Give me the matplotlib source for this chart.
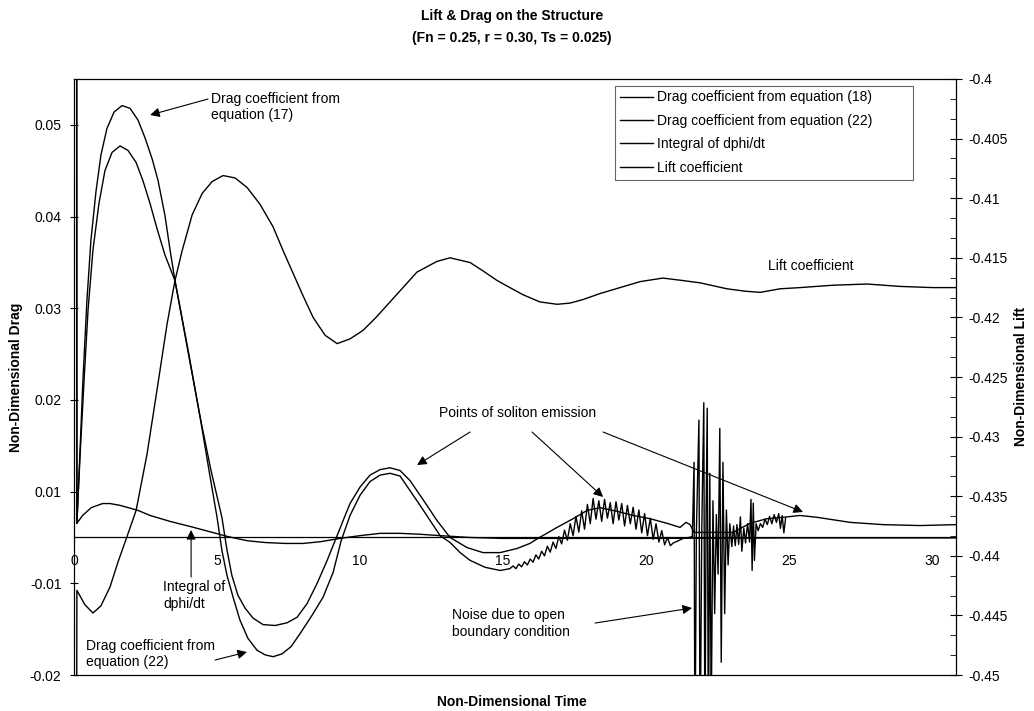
import numpy as np
import matplotlib
matplotlib.use("Agg")
import matplotlib.pyplot as plt
from matplotlib.ticker import FuncFormatter, MultipleLocator, AutoMinorLocator

plt.rcParams['font.family'] = ['Liberation Sans', 'DejaVu Sans']
plt.rcParams['font.size'] = 10

# (time, Cd) drag coefficient from equation (18)
drag18 = [(0.075, 0.2), (0.10, 0.0031), (0.21, 0.0145), (0.31, 0.0221), (0.45, 0.0308),
          (0.59, 0.0374), (0.77, 0.0428), (0.94, 0.0467), (1.15, 0.0496), (1.40, 0.0514),
          (1.68, 0.0521), (1.96, 0.0518), (2.24, 0.0505), (2.48, 0.0486), (2.73, 0.0463),
          (2.94, 0.0439), (3.18, 0.0401), (3.36, 0.0363), (3.53, 0.0330), (3.99, 0.0254),
          (4.41, 0.0181), (4.79, 0.0123), (5.17, 0.0044), (5.35, -0.0028), (5.52, -0.0083),
          (5.73, -0.0113), (5.98, -0.0127), (6.26, -0.0138), (6.61, -0.0145), (7.03, -0.0146),
          (7.45, -0.0143), (7.80, -0.0137), (8.15, -0.0122), (8.50, -0.0100), (8.85, -0.0050),
          (9.16, -0.0002), (9.48, 0.0048), (9.65, 0.0074), (10.00, 0.0105), (10.35, 0.0118),
          (10.70, 0.0124), (11.05, 0.0126), (11.40, 0.0123), (11.75, 0.0112), (11.99, 0.0101),
          (12.34, 0.0070), (12.69, 0.0037), (13.15, 0.0), (13.74, -0.0022), (14.30, -0.0033),
          (14.90, -0.0033), (15.49, -0.0024), (15.94, -0.0013), (16.22, -0.0002), (16.89, 0.0022),
          (17.45, 0.0041), (17.94, 0.0059), (18.39, 0.0065), (18.99, 0.0057), (19.55, 0.0048),
          (20.14, 0.0041), (20.73, 0.0031), (21.19, 0.0022), (21.40, 0.0033), (21.54, 0.0028),
          (21.68, 0.0011), (22.24, 0.0011), (23.04, 0.0011), (23.64, 0.0031), (24.23, 0.0041),
          (24.79, 0.0044), (25.38, 0.0048), (25.98, 0.0044), (27.13, 0.0033), (28.29, 0.0028),
          (29.58, 0.0026), (30.84, 0.0028)]

# (time, Cd) drag coefficient from equation (22), smooth part
drag22 = [(0.075, 0.2), (0.10, 0.0031), (0.21, 0.0139), (0.35, 0.0221), (0.49, 0.0298),
          (0.66, 0.0363), (0.87, 0.0414), (1.08, 0.0450), (1.33, 0.0470), (1.61, 0.0477),
          (1.89, 0.0472), (2.17, 0.0459), (2.41, 0.0439), (2.66, 0.0414), (2.90, 0.0387),
          (3.18, 0.0358), (3.53, 0.0330), (3.95, 0.0259), (4.41, 0.0181), (4.72, 0.0123),
          (5.00, 0.0044), (5.17, -0.0028), (5.35, -0.0083), (5.56, -0.0115), (5.80, -0.0140),
          (6.08, -0.0160), (6.40, -0.0173), (6.68, -0.0178), (6.96, -0.0180), (7.27, -0.0177),
          (7.59, -0.0169), (7.90, -0.0155), (8.32, -0.0135), (8.71, -0.0115), (9.06, -0.0076),
          (9.34, -0.0007), (9.65, 0.0048), (10.00, 0.0092), (10.35, 0.0111), (10.70, 0.0118),
          (11.05, 0.0120), (11.40, 0.0117), (11.75, 0.0101), (12.10, 0.0070), (12.45, 0.0037),
          (12.80, 0.0004), (13.15, -0.0011), (13.50, -0.0033), (13.85, -0.0050), (14.37, -0.0065),
          (14.90, -0.0072), (15.24, -0.0068)]

# soliton emission ripple on the (22) curve
drag22_ripple = [(15.35, -0.0062), (15.45, -0.0068), (15.55, -0.0058), (15.65, -0.0064),
                 (15.75, -0.0053), (15.85, -0.0060), (15.95, -0.0047), (16.05, -0.0054),
                 (16.15, -0.0038), (16.25, -0.0047), (16.35, -0.0030), (16.45, -0.0040),
                 (16.55, -0.0019), (16.65, -0.0032), (16.75, -0.0010), (16.85, -0.0024),
                 (16.95, 0.0002), (17.05, -0.0014), (17.15, 0.0016), (17.25, -0.0006),
                 (17.35, 0.0030), (17.45, 0.0004), (17.55, 0.0046), (17.65, 0.0012),
                 (17.75, 0.0058), (17.85, 0.0018), (17.95, 0.0072), (18.05, 0.0030),
                 (18.15, 0.0085), (18.25, 0.0040), (18.35, 0.0080), (18.45, 0.0035),
                 (18.55, 0.0083), (18.65, 0.0042), (18.75, 0.0076), (18.85, 0.0030),
                 (18.95, 0.0078), (19.05, 0.0038), (19.15, 0.0074), (19.25, 0.0025),
                 (19.35, 0.0070), (19.45, 0.0030), (19.55, 0.0066), (19.65, 0.0018),
                 (19.75, 0.0060), (19.85, 0.0010), (19.95, 0.0052), (20.05, 0.0004),
                 (20.15, 0.0042), (20.25, -0.0004), (20.35, 0.0030), (20.45, -0.0010),
                 (20.55, 0.0015), (20.65, -0.0016), (20.75, 0.0), (20.85, -0.0018),
                 (20.95, -0.0012), (21.10, -0.0008), (21.30, -0.0002), (21.50, 0.0),
                 (21.62, 0.0002)]

# noise from the open boundary, end of the (22) curve
drag22_noise = [(21.68, 0.0132), (21.71, -0.030), (21.76, 0.0010), (21.85, 0.0178),
                (21.89, -0.030), (21.95, 0.0020), (22.02, 0.0197), (22.06, -0.030),
                (22.10, 0.0050), (22.14, 0.0191), (22.18, -0.030), (22.23, 0.0120),
                (22.28, -0.025), (22.34, 0.0080), (22.40, -0.0133), (22.46, 0.0050),
                (22.52, -0.0080), (22.58, 0.0169), (22.63, -0.0186), (22.69, 0.0132),
                (22.75, -0.0133), (22.81, 0.0060), (22.87, -0.0060), (22.93, 0.0030),
                (23.00, -0.0020), (23.06, 0.0025), (23.12, -0.0018), (23.18, 0.0028),
                (23.24, -0.0015), (23.30, 0.0045), (23.35, -0.0030), (23.42, 0.0020),
                (23.48, -0.0012), (23.55, 0.0030), (23.62, -0.0010), (23.67, 0.0083),
                (23.71, -0.0072), (23.75, 0.0075), (23.79, -0.0050), (23.85, 0.0030),
                (23.92, 0.0015), (24.00, 0.0030), (24.08, 0.0022), (24.16, 0.0040),
                (24.24, 0.0028), (24.32, 0.0046), (24.40, 0.0030), (24.48, 0.0050),
                (24.56, 0.0033), (24.64, 0.0052), (24.70, 0.0020), (24.76, 0.0048),
                (24.82, 0.0010), (24.88, 0.0042)]

# (time, value) integral of dphi/dt
integral = [(0.10, 0.0031), (0.30, 0.0048), (0.60, 0.0065), (1.00, 0.0074), (1.26, 0.0074),
            (1.61, 0.0070), (2.24, 0.0059), (2.66, 0.0048), (3.36, 0.0035), (4.06, 0.0024),
            (4.72, 0.0013), (5.38, 0.0002), (6.05, -0.0007), (6.68, -0.0011), (7.38, -0.0013),
            (8.01, -0.0013), (8.64, -0.0009), (9.30, -0.0002), (10.00, 0.0004), (10.70, 0.0009),
            (11.40, 0.0009), (12.10, 0.0007), (12.80, 0.0004), (13.85, 0.0), (15.00, -0.0002),
            (17.00, -0.0002), (20.00, -0.0002), (25.00, -0.0001), (30.84, -0.0001)]

# (time, Cl) lift coefficient, right axis
lift = [(0.075, -0.48), (0.10, -0.4429), (0.38, -0.4441), (0.66, -0.4448), (0.94, -0.4442),
        (1.26, -0.4426), (1.54, -0.4405), (1.85, -0.4384), (2.17, -0.4362), (2.55, -0.4315),
        (2.90, -0.4261), (3.25, -0.4206), (3.53, -0.4169), (3.78, -0.4144), (4.13, -0.4114),
        (4.48, -0.4096), (4.83, -0.4086), (5.21, -0.4081), (5.63, -0.4083), (6.05, -0.4091),
        (6.50, -0.4105), (6.96, -0.4124), (7.31, -0.4144), (7.66, -0.4163), (8.01, -0.4182),
        (8.36, -0.4200), (8.78, -0.4215), (9.20, -0.4222), (9.65, -0.4218), (10.10, -0.4211),
        (10.56, -0.4200), (11.05, -0.4187), (11.54, -0.4174), (11.99, -0.4162), (12.69, -0.4153),
        (13.15, -0.4150), (13.85, -0.4154), (14.30, -0.4161), (14.79, -0.4169), (15.24, -0.4175),
        (15.70, -0.4181), (16.29, -0.4187), (16.89, -0.4189), (17.34, -0.4188), (17.80, -0.4185),
        (18.39, -0.4180), (19.09, -0.4175), (19.79, -0.4170), (20.59, -0.4167), (21.26, -0.4169),
        (21.89, -0.4171), (22.83, -0.4176), (23.46, -0.4178), (23.99, -0.4179), (24.69, -0.4176),
        (25.38, -0.4175), (26.54, -0.4173), (27.73, -0.4172), (28.88, -0.4174), (30.03, -0.4175),
        (30.84, -0.4175)]

time_ticks = [0, 5, 10, 15, 20, 25, 30]
drag_ticks = [-0.02, -0.01, 0.01, 0.02, 0.03, 0.04, 0.05]


def drag_fwd(v):
    # drag axis: -0.01..0.01 squeezed into a single tick step
    v = np.asarray(v, dtype=float)
    return np.where(v >= 0.01, v - 0.005, np.where(v <= -0.01, v + 0.005, v / 2))


def drag_inv(s):
    s = np.asarray(s, dtype=float)
    return np.where(s >= 0.005, s + 0.005, np.where(s <= -0.005, s - 0.005, s * 2))


fig = plt.figure(figsize=(10.34, 7.11), dpi=100)
ax = fig.add_axes([0.0716, 0.0506, 0.853, 0.8383])
ax2 = ax.twinx()

t, v = zip(*drag18)
l1, = ax.plot(t, v, color='k', lw=1.0)
t, v = zip(*(drag22 + drag22_ripple + drag22_noise))
l2, = ax.plot(t, v, color='k', lw=1.0)
t, v = zip(*integral)
l3, = ax.plot(t, v, color='k', lw=1.0)
t, v = zip(*lift)
l4, = ax2.plot(t, v, color='k', lw=1.0)

ax.set_yscale('function', functions=(drag_fwd, drag_inv))
ax.set_ylim(-0.02, 0.055)
ax.set_xlim(0, 30.84)
ax2.set_ylim(-0.45, -0.4)

# x axis crosses at zero drag, plot frame stays on the twin
ax.spines['bottom'].set_position(('data', 0))
ax.spines['top'].set_visible(False)
ax.spines['right'].set_visible(False)
ax2.spines['left'].set_visible(False)
for sp in ax2.spines.values():
    sp.set_linewidth(0.9)
ax.spines['left'].set_linewidth(0.9)
ax.spines['bottom'].set_linewidth(0.9)

ax.set_xticks(time_ticks)
ax.tick_params(axis='x', length=0, pad=12)
ax.set_yticks(drag_ticks)
ax.yaxis.set_major_formatter(FuncFormatter(lambda y, p: '%g' % round(y, 4)))
ax.tick_params(axis='y', direction='inout', length=6, width=0.8, pad=6)

ax2.yaxis.set_major_locator(MultipleLocator(0.005))
ax2.yaxis.set_minor_locator(AutoMinorLocator(3))
ax2.yaxis.set_major_formatter(FuncFormatter(lambda y, p: '%g' % round(y, 4)))
ax2.tick_params(axis='y', which='major', direction='inout', length=8, width=0.8, pad=5)
ax2.tick_params(axis='y', which='minor', direction='in', length=4, width=0.6)

fig.text(0.495, 0.9775, 'Lift & Drag on the Structure', ha='center', va='center',
         fontweight='bold', fontsize=10)
fig.text(0.495, 0.9466, '(Fn = 0.25, r = 0.30, Ts = 0.025)', ha='center', va='center',
         fontweight='bold', fontsize=10)
fig.text(0.495, 0.0127, 'Non-Dimensional Time', ha='center', va='center', fontweight='bold')
fig.text(0.0155, 0.47, 'Non-Dimensional Drag', ha='center', va='center', rotation=90,
         fontweight='bold')
fig.text(0.9876, 0.47, 'Non-Dimensional Lift', ha='center', va='center', rotation=90,
         fontweight='bold')

leg = ax2.legend([l1, l2, l3, l4],
                 ['Drag coefficient from equation (18)', 'Drag coefficient from equation (22)',
                  'Integral of dphi/dt', 'Lift coefficient'],
                 loc='upper left', bbox_to_anchor=(0.6134, 0.834, 0.338, 0.155), mode='expand',
                 borderaxespad=0, fancybox=False, edgecolor='0.4', framealpha=1,
                 handlelength=2.4, handletextpad=0.3, labelspacing=0.68, borderpad=0.35)
leg.get_frame().set_linewidth(0.8)


def arrow(tail, tip):
    ax2.annotate('', xy=tip, xycoords='axes fraction', xytext=tail, textcoords='axes fraction',
                 arrowprops=dict(arrowstyle='-|>', color='k', lw=0.8, mutation_scale=14,
                                 shrinkA=0, shrinkB=0))


ax2.text(0.1553, 0.953, 'Drag coefficient from\nequation (17)', transform=ax2.transAxes,
         ha='left', va='center')
arrow((0.1519, 0.9664), (0.0862, 0.9396))

ax2.text(0.1009, 0.1334, 'Integral of\ndphi/dt', transform=ax2.transAxes, ha='left', va='center')
arrow((0.1327, 0.1644), (0.1327, 0.2433))

ax2.text(0.0136, 0.0352, 'Drag coefficient from\nequation (22)', transform=ax2.transAxes,
         ha='left', va='center')
arrow((0.1599, 0.0252), (0.1961, 0.0386))

ax2.text(0.5023, 0.4396, 'Points of soliton emission', transform=ax2.transAxes,
         ha='center', va='center')
arrow((0.4490, 0.4077), (0.3889, 0.3523))
arrow((0.5193, 0.4077), (0.5998, 0.2987))
arrow((0.5998, 0.4077), (0.8265, 0.2735))

ax2.text(0.4286, 0.0864, 'Noise due to open\nboundary condition', transform=ax2.transAxes,
         ha='left', va='center')
arrow((0.5907, 0.0872), (0.7007, 0.1124))

ax2.text(0.7868, 0.6862, 'Lift coefficient', transform=ax2.transAxes, ha='left', va='center')

fig.savefig('out.png', dpi=100)
